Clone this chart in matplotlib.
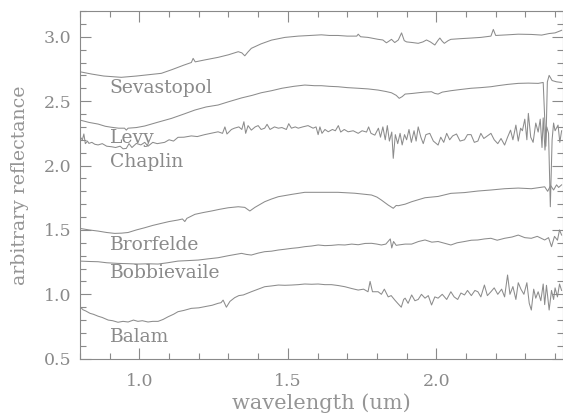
import matplotlib
matplotlib.use('Agg')
from matplotlib import pyplot as plt
from matplotlib.ticker import MultipleLocator, FormatStrFormatter

# spectra (wavelength in um, offset reflectance)
sevastopol_x = [0.800, 0.840, 0.880, 0.939, 0.990, 1.030, 1.074, 1.110, 1.150, 1.175, 1.181, 1.188,
                1.220, 1.265, 1.300, 1.333, 1.345, 1.355, 1.365, 1.377, 1.410, 1.445, 1.490, 1.535,
                1.575, 1.613, 1.640, 1.669, 1.700, 1.732, 1.737, 1.745, 1.770, 1.804, 1.820, 1.832,
                1.840, 1.849, 1.860, 1.872, 1.883, 1.892, 1.900, 1.920, 1.939, 1.955, 1.967, 1.980,
                1.995, 2.005, 2.012, 2.020, 2.027, 2.040, 2.049, 2.080, 2.117, 2.150, 2.184, 2.192,
                2.200, 2.240, 2.276, 2.320, 2.355, 2.380, 2.400, 2.422]
sevastopol_y = [2.728, 2.710, 2.695, 2.685, 2.695, 2.705, 2.716, 2.745, 2.780, 2.800, 2.832, 2.805,
                2.820, 2.840, 2.860, 2.884, 2.875, 2.852, 2.880, 2.910, 2.945, 2.974, 2.995, 3.005,
                3.010, 3.015, 3.010, 3.010, 3.005, 3.005, 3.020, 3.000, 2.995, 2.980, 2.975, 2.953,
                2.965, 2.980, 2.955, 2.975, 3.030, 2.970, 2.960, 2.955, 2.949, 2.960, 2.975, 2.960,
                2.936, 2.970, 2.990, 2.965, 2.949, 2.970, 2.980, 2.985, 2.990, 2.995, 3.005, 3.057,
                3.010, 3.015, 3.020, 3.018, 3.013, 3.025, 3.030, 3.050]

levy_x = [0.800, 0.830, 0.861, 0.885, 0.906, 0.930, 0.950, 0.956, 0.962, 0.990, 1.018, 1.060,
          1.108, 1.150, 1.187, 1.225, 1.265, 1.300, 1.344, 1.380, 1.410, 1.445, 1.480, 1.520,
          1.557, 1.590, 1.613, 1.640, 1.669, 1.700, 1.737, 1.770, 1.804, 1.830, 1.849, 1.865,
          1.875, 1.885, 1.895, 1.920, 1.939, 1.960, 1.984, 1.995, 2.006, 2.020, 2.049, 2.080,
          2.117, 2.150, 2.184, 2.207, 2.240, 2.276, 2.310, 2.343, 2.360, 2.369, 2.374, 2.380,
          2.390, 2.405, 2.422]
levy_y = [2.353, 2.335, 2.322, 2.305, 2.297, 2.290, 2.290, 2.275, 2.290, 2.295, 2.307, 2.335,
          2.366, 2.400, 2.431, 2.455, 2.470, 2.495, 2.525, 2.545, 2.565, 2.581, 2.600, 2.615,
          2.625, 2.620, 2.620, 2.615, 2.612, 2.605, 2.600, 2.595, 2.586, 2.575, 2.565, 2.545,
          2.522, 2.535, 2.555, 2.560, 2.565, 2.570, 2.573, 2.560, 2.555, 2.570, 2.581, 2.590,
          2.600, 2.605, 2.612, 2.620, 2.630, 2.638, 2.640, 2.638, 2.645, 2.150, 2.650, 2.700,
          2.660, 2.650, 2.645]

chaplin_x = [0.800, 0.808, 0.813, 0.818, 0.825, 0.830, 0.840, 0.850, 0.861, 0.875, 0.890, 0.906,
             0.920, 0.935, 0.945, 0.956, 0.965, 0.975, 0.990, 1.005, 1.018, 1.029, 1.045, 1.060,
             1.085, 1.100, 1.115, 1.130, 1.150, 1.175, 1.195, 1.220, 1.240, 1.265, 1.280, 1.288,
             1.295, 1.310, 1.320, 1.335, 1.345, 1.352, 1.358, 1.366, 1.377, 1.390, 1.400, 1.410,
             1.422, 1.430, 1.440, 1.455, 1.468, 1.480, 1.495, 1.503, 1.512, 1.525, 1.535, 1.550,
             1.568, 1.585, 1.595, 1.602, 1.608, 1.615, 1.625, 1.636, 1.650, 1.660, 1.670, 1.678,
             1.690, 1.703, 1.720, 1.737, 1.750, 1.765, 1.772, 1.780, 1.793, 1.805, 1.812, 1.820,
             1.828, 1.835, 1.842, 1.850, 1.855, 1.862, 1.870, 1.878, 1.885, 1.893, 1.900, 1.908,
             1.916, 1.925, 1.932, 1.939, 1.948, 1.956, 1.965, 1.978, 1.990, 2.006, 2.015, 2.025,
             2.035, 2.045, 2.055, 2.068, 2.080, 2.095, 2.105, 2.117, 2.128, 2.140, 2.150, 2.160,
             2.172, 2.184, 2.195, 2.207, 2.218, 2.230, 2.240, 2.250, 2.258, 2.268, 2.276, 2.284,
             2.290, 2.298, 2.305, 2.310, 2.318, 2.326, 2.335, 2.343, 2.350, 2.356, 2.360, 2.366,
             2.372, 2.378, 2.384, 2.390, 2.395, 2.400, 2.410, 2.416, 2.422]
chaplin_y = [2.224, 2.200, 2.245, 2.170, 2.190, 2.172, 2.180, 2.165, 2.160, 2.170, 2.150, 2.146,
             2.140, 2.150, 2.130, 2.133, 2.170, 2.140, 2.172, 2.160, 2.180, 2.150, 2.180, 2.170,
             2.180, 2.200, 2.190, 2.219, 2.220, 2.230, 2.225, 2.240, 2.250, 2.262, 2.250, 2.300,
             2.245, 2.280, 2.290, 2.300, 2.280, 2.340, 2.250, 2.310, 2.275, 2.300, 2.310, 2.280,
             2.290, 2.320, 2.280, 2.300, 2.290, 2.295, 2.280, 2.325, 2.290, 2.300, 2.290, 2.300,
             2.310, 2.290, 2.300, 2.240, 2.300, 2.250, 2.280, 2.262, 2.280, 2.270, 2.310, 2.260,
             2.280, 2.262, 2.270, 2.250, 2.270, 2.260, 2.300, 2.250, 2.236, 2.290, 2.220, 2.300,
             2.200, 2.310, 2.190, 2.260, 2.056, 2.240, 2.170, 2.250, 2.160, 2.240, 2.200, 2.280,
             2.180, 2.270, 2.190, 2.300, 2.220, 2.170, 2.240, 2.250, 2.190, 2.159, 2.220, 2.180,
             2.250, 2.200, 2.230, 2.245, 2.190, 2.200, 2.240, 2.240, 2.180, 2.190, 2.250, 2.210,
             2.230, 2.250, 2.200, 2.170, 2.210, 2.159, 2.220, 2.275, 2.200, 2.314, 2.190, 2.290,
             2.270, 2.360, 2.200, 2.405, 2.220, 2.180, 2.330, 2.260, 2.360, 2.140, 2.370, 2.120,
             2.300, 2.250, 1.680, 2.200, 2.330, 2.270, 2.314, 2.180, 2.270]

brorfelde_x = [0.800, 0.830, 0.861, 0.890, 0.917, 0.940, 0.962, 0.990, 1.018, 1.045, 1.074, 1.100,
               1.130, 1.145, 1.153, 1.160, 1.187, 1.215, 1.243, 1.270, 1.299, 1.333, 1.355, 1.372,
               1.389, 1.422, 1.445, 1.468, 1.513, 1.557, 1.613, 1.669, 1.725, 1.782, 1.800, 1.815,
               1.838, 1.855, 1.865, 1.872, 1.895, 1.917, 1.940, 1.962, 2.006, 2.049, 2.095, 2.140,
               2.184, 2.230, 2.276, 2.320, 2.350, 2.365, 2.375, 2.385, 2.395, 2.405, 2.412, 2.422]
brorfelde_y = [1.512, 1.500, 1.491, 1.480, 1.473, 1.475, 1.480, 1.500, 1.517, 1.535, 1.551, 1.565,
               1.577, 1.585, 1.565, 1.590, 1.621, 1.635, 1.647, 1.660, 1.672, 1.680, 1.675, 1.647,
               1.675, 1.719, 1.740, 1.758, 1.776, 1.792, 1.792, 1.792, 1.785, 1.771, 1.755, 1.732,
               1.693, 1.668, 1.690, 1.688, 1.700, 1.719, 1.735, 1.750, 1.760, 1.784, 1.790, 1.802,
               1.810, 1.820, 1.825, 1.820, 1.830, 1.835, 1.800, 1.845, 1.810, 1.850, 1.830, 1.850]

bobbievaile_x = [0.800, 0.830, 0.861, 0.890, 0.928, 0.960, 0.995, 1.030, 1.063, 1.095, 1.130, 1.165,
                 1.198, 1.230, 1.265, 1.300, 1.344, 1.360, 1.377, 1.400, 1.422, 1.445, 1.468, 1.490,
                 1.513, 1.535, 1.557, 1.580, 1.602, 1.625, 1.647, 1.670, 1.692, 1.715, 1.737, 1.760,
                 1.782, 1.800, 1.815, 1.830, 1.845, 1.850, 1.856, 1.865, 1.872, 1.895, 1.917, 1.940,
                 1.962, 1.985, 2.006, 2.030, 2.049, 2.070, 2.095, 2.118, 2.140, 2.162, 2.184, 2.205,
                 2.230, 2.255, 2.276, 2.298, 2.320, 2.340, 2.365, 2.378, 2.388, 2.398, 2.408, 2.415,
                 2.422]
bobbievaile_y = [1.258, 1.255, 1.253, 1.245, 1.240, 1.238, 1.235, 1.237, 1.235, 1.245, 1.258, 1.262,
                 1.266, 1.275, 1.284, 1.300, 1.318, 1.310, 1.305, 1.320, 1.331, 1.335, 1.344, 1.350,
                 1.357, 1.362, 1.370, 1.375, 1.383, 1.378, 1.380, 1.385, 1.383, 1.390, 1.385, 1.395,
                 1.396, 1.390, 1.383, 1.390, 1.430, 1.360, 1.410, 1.380, 1.383, 1.390, 1.390, 1.410,
                 1.422, 1.405, 1.410, 1.395, 1.383, 1.400, 1.410, 1.420, 1.422, 1.430, 1.435, 1.420,
                 1.435, 1.445, 1.460, 1.440, 1.435, 1.450, 1.422, 1.440, 1.370, 1.450, 1.420, 1.500,
                 1.460]

balam_x = [0.800, 0.810, 0.820, 0.834, 0.845, 0.861, 0.875, 0.895, 0.910, 0.928, 0.945, 0.962,
           0.980, 0.995, 1.010, 1.029, 1.045, 1.063, 1.080, 1.097, 1.115, 1.130, 1.150, 1.175,
           1.200, 1.220, 1.245, 1.265, 1.275, 1.282, 1.293, 1.305, 1.321, 1.335, 1.350, 1.377,
           1.400, 1.422, 1.445, 1.468, 1.490, 1.513, 1.535, 1.557, 1.580, 1.602, 1.625, 1.647,
           1.670, 1.692, 1.715, 1.737, 1.755, 1.770, 1.777, 1.785, 1.804, 1.815, 1.825, 1.838,
           1.848, 1.860, 1.870, 1.882, 1.890, 1.895, 1.905, 1.917, 1.928, 1.939, 1.950, 1.962,
           1.973, 1.984, 1.995, 2.006, 2.020, 2.035, 2.049, 2.060, 2.072, 2.083, 2.095, 2.105,
           2.118, 2.130, 2.140, 2.150, 2.162, 2.172, 2.184, 2.195, 2.207, 2.220, 2.230, 2.240,
           2.248, 2.258, 2.268, 2.276, 2.285, 2.295, 2.305, 2.313, 2.320, 2.328, 2.335, 2.343,
           2.352, 2.360, 2.365, 2.371, 2.380, 2.388, 2.395, 2.400, 2.408, 2.415, 2.422]
balam_y = [0.904, 0.880, 0.870, 0.852, 0.845, 0.830, 0.820, 0.800, 0.795, 0.783, 0.790, 0.785,
           0.800, 0.790, 0.795, 0.785, 0.790, 0.790, 0.805, 0.826, 0.845, 0.865, 0.875, 0.891,
           0.895, 0.904, 0.915, 0.930, 0.935, 0.955, 0.900, 0.945, 0.974, 0.990, 0.995, 1.020,
           1.040, 1.059, 1.065, 1.072, 1.070, 1.072, 1.075, 1.080, 1.078, 1.080, 1.075, 1.075,
           1.068, 1.059, 1.045, 1.033, 1.040, 1.020, 1.100, 1.020, 1.020, 1.000, 1.040, 0.980,
           0.990, 0.956, 0.930, 0.900, 0.960, 0.970, 0.930, 0.995, 0.950, 0.960, 1.000, 0.970,
           0.990, 0.917, 0.980, 0.970, 1.000, 0.960, 1.020, 0.980, 0.960, 1.010, 0.995, 1.030,
           0.990, 1.030, 1.020, 0.980, 1.072, 0.990, 1.020, 1.050, 1.000, 1.040, 0.980, 1.150,
           1.000, 1.060, 0.960, 1.090, 1.040, 1.000, 1.090, 0.930, 0.878, 1.040, 0.970, 1.020,
           0.950, 1.080, 0.920, 1.070, 0.878, 1.030, 0.960, 1.050, 0.980, 1.080, 1.030]

names = ["Sevastopol", "Levy", "Chaplin", "Brorfelde", "Bobbievaile", "Balam"]
label_y = [2.60, 2.21, 2.03, 1.383, 1.163, 0.671]

gray = "#8a8a8a"
plt.rcParams['font.family'] = ['DejaVu Serif']

fig = plt.figure(figsize=(5.63, 4.15), dpi=100)
ax = fig.add_axes([80 / 563, 56.3 / 415, 482.5 / 563, 347.7 / 415])

series = [(sevastopol_x, sevastopol_y), (levy_x, levy_y), (chaplin_x, chaplin_y),
          (brorfelde_x, brorfelde_y), (bobbievaile_x, bobbievaile_y), (balam_x, balam_y)]
for (xs, ys) in series:
    ax.plot(xs, ys, color="#8c8c8c", lw=0.75)

for name, ly in zip(names, label_y):
    ax.text(0.9, ly, name, color=gray, fontsize=13.5, va="center", ha="left")

ax.set_xlim(0.8, 2.425)
ax.set_ylim(0.5, 3.2)
ax.xaxis.set_major_locator(MultipleLocator(0.5))
ax.xaxis.set_minor_locator(MultipleLocator(0.1))
ax.yaxis.set_major_locator(MultipleLocator(0.5))
ax.yaxis.set_minor_locator(MultipleLocator(0.1))
ax.xaxis.set_major_formatter(FormatStrFormatter("%.1f"))
ax.yaxis.set_major_formatter(FormatStrFormatter("%.1f"))
ax.tick_params(which="both", direction="in", top=True, right=True, colors=gray,
               labelsize=12.5, labelcolor=gray, width=0.8)
ax.tick_params(which="major", length=8)
ax.tick_params(which="minor", length=4)
ax.tick_params(axis="x", which="major", pad=10)
ax.tick_params(axis="y", which="major", pad=6)
for s in ax.spines.values():
    s.set_color(gray)
    s.set_linewidth(0.8)

ax.set_xlabel("wavelength (um)", color="#959595", fontsize=15, labelpad=3)
ax.set_ylabel("arbitrary reflectance", color="#959595", fontsize=13.6, labelpad=11)

plt.savefig("out.png", dpi=100)
